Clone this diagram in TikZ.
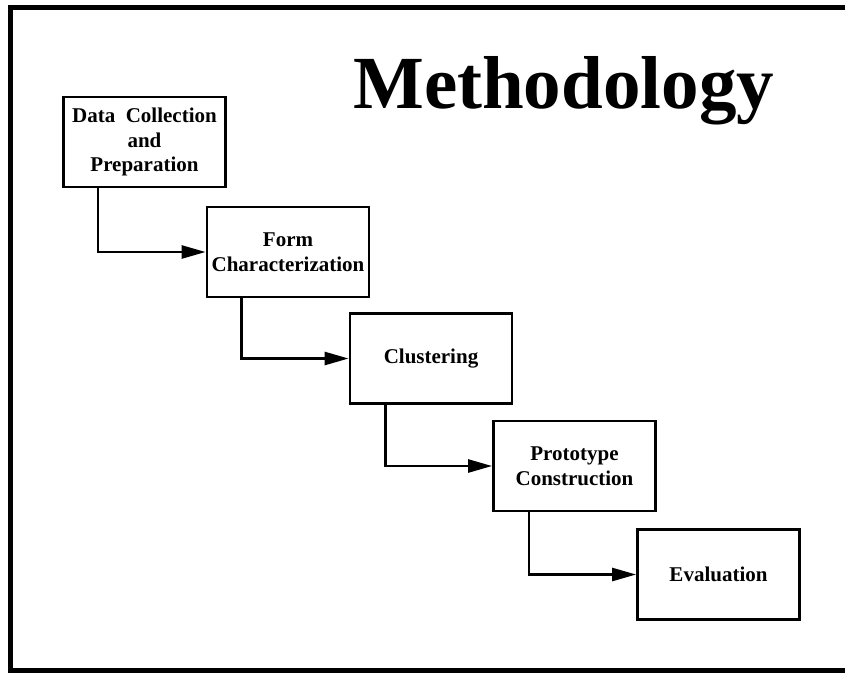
\documentclass[tikz,border=0pt]{standalone}
\usepackage{fontspec}
\setmainfont{Liberation Serif}
\usetikzlibrary{arrows.meta,calc}

\tikzset{
  stagebox/.style={draw, line width=2.8pt, minimum width=162pt, minimum height=90pt,
    inner sep=0pt, align=center, font=\fontsize{21}{24.5}\selectfont\bfseries},
  flow/.style={line width=2.6pt, -{Triangle[length=24pt,width=13pt]}},
  frameline/.style={line width=5pt}
}

\begin{document}
\begin{tikzpicture}[x=1pt,y=-1pt]
  \useasboundingbox (0,0) rectangle (845,673);

  % slide frame (right side runs off the page)
  \coordinate (ftl) at (10,7.5);
  \coordinate (fbl) at (10,670);
  \draw[frameline] (860,7.5) -- (ftl) -- (fbl) -- (860,670);

  % title
  \node[anchor=base west, inner sep=0pt, font=\fontsize{75}{80}\selectfont\bfseries]
    (title) at (353,108) {Methodology};

  % process stages
  \node[stagebox] (collect) at (144.5,142)   {Data\ \ Collection\\and\\Preparation};
  \node[stagebox] (form)    at (288,252)     {Form\\Characterization};
  \node[stagebox] (cluster) at (431,358.5)   {Clustering};
  \node[stagebox] (proto)   at (574.5,466)   {Prototype\\Construction};
  \node[stagebox] (evalu)   at (718.5,574.5) {Evaluation};

  % stage-to-stage connectors
  \draw[flow] ($(collect.south west)+(36,0)$) |- (form.west);
  \draw[flow] ($(form.south west)+(36,0)$)    |- (cluster.west);
  \draw[flow] ($(cluster.south west)+(37,0)$) |- (proto.west);
  \draw[flow] ($(proto.south west)+(37,0)$)   |- (evalu.west);
\end{tikzpicture}
\end{document}
